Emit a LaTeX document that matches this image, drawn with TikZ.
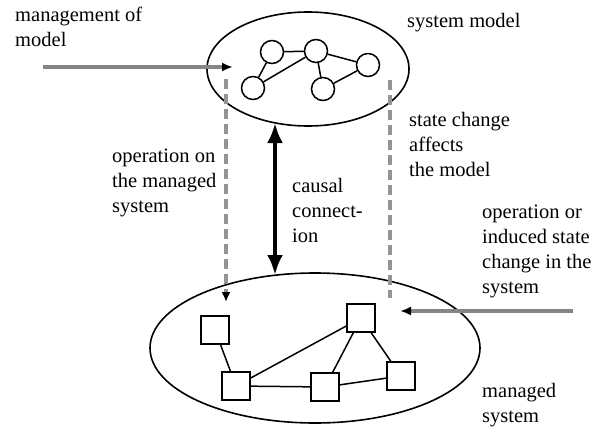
\documentclass[tikz,border=0pt]{standalone}
\usepackage{fontspec}
\setmainfont{Liberation Serif}
\usetikzlibrary{shapes.geometric,arrows.meta}
\begin{document}
\begin{tikzpicture}[x=1pt,y=-1pt,
  lbl/.style={anchor=base west,inner sep=0,align=left,font=\fontsize{20.5}{25}\selectfont},
  gnode/.style={circle,draw,line width=1.5pt,minimum size=23pt,inner sep=0},
  sq/.style={rectangle,draw,line width=1.5pt,minimum size=28pt,inner sep=0},
  gedge/.style={line width=1.5pt},
  oval/.style={ellipse,draw,line width=1.6pt,inner sep=0},
  grayarrow/.style={draw=black!48,line width=3.5pt,-{Latex[length=11pt,width=9pt,color=black]}},
  dasharrow/.style={draw=black!42,line width=3.2pt,dash pattern=on 10pt off 5pt},
  causal/.style={line width=4pt,{Latex[length=20pt,width=16pt]}-{Latex[length=20pt,width=16pt]}}
]
\useasboundingbox (0,0) rectangle (602,428);
% ellipses
\node[oval,minimum width=202pt,minimum height=114pt] (top) at (308,69) {};
\node[oval,minimum width=330pt,minimum height=150pt] (bot) at (315,348) {};
% top graph
\node[gnode] (c1) at (272,52) {};
\node[gnode] (c2) at (316,51) {};
\node[gnode] (c3) at (368,65) {};
\node[gnode] (c4) at (253,88) {};
\node[gnode] (c5) at (323,89) {};
\draw[gedge] (c1) -- (c2);
\draw[gedge] (c1) -- (c4);
\draw[gedge] (c2) -- (c4);
\draw[gedge] (c2) -- (c5);
\draw[gedge] (c2) -- (c3);
\draw[gedge] (c3) -- (c5);
% bottom graph
\node[sq] (s1) at (215,330) {};
\node[sq] (s2) at (361,318) {};
\node[sq] (s3) at (236,386) {};
\node[sq] (s4) at (325,387) {};
\node[sq] (s5) at (401,376) {};
\draw[gedge] (s1) -- (s3);
\draw[gedge] (s3) -- (s2);
\draw[gedge] (s3) -- (s4);
\draw[gedge] (s4) -- (s2);
\draw[gedge] (s4) -- (s5);
\draw[gedge] (s2) -- (s5);
% connectors
\coordinate (mgA) at (43,67);
\coordinate (mgB) at (233,67);
\draw[grayarrow] (mgA) -- (mgB);
\coordinate (opA) at (573,311);
\coordinate (opB) at (400,311);
\draw[grayarrow] (opA) -- (opB);
\coordinate (dlA) at (226,79);
\coordinate (dlB) at (226,302);
\draw[dasharrow,-{Latex[length=10pt,width=9pt,color=black]}] (dlA) -- (dlB);
\coordinate (drA) at (390,80);
\coordinate (drB) at (390,298);
\draw[dasharrow] (drA) -- (drB);
\coordinate (caA) at (275,123);
\coordinate (caB) at (275,275);
\draw[causal] (caA) -- (caB);
% labels (anchor = baseline of last line)
\node[lbl] (t1) at (15,47) {management of\\model};
\node[lbl] (t2) at (407,28) {system model};
\node[lbl] (t3) at (112,212) {operation on\\the managed\\system};
\node[lbl] (t4) at (292,242) {causal\\connect-\\ion};
\node[lbl] (t5) at (409,176) {state change\\affects\\the model};
\node[lbl] (t6) at (482,293) {operation or\\induced state\\change in the\\system};
\node[lbl] (t7) at (482,422) {managed\\system};
\end{tikzpicture}
\end{document}
